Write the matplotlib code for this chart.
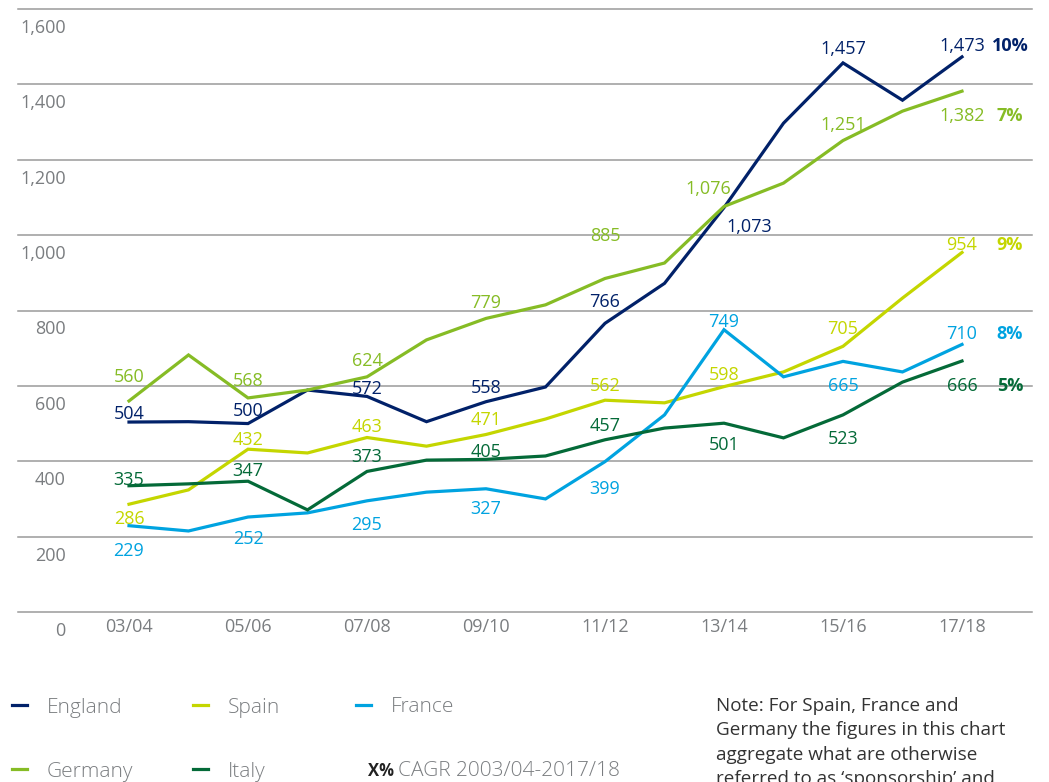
import matplotlib
matplotlib.use('Agg')
import matplotlib.pyplot as plt
from matplotlib.lines import Line2D

plt.rcParams['font.family'] = ['Open Sans', 'DejaVu Sans']

seasons = ['03/04', '04/05', '05/06', '06/07', '07/08', '08/09', '09/10', '10/11',
           '11/12', '12/13', '13/14', '14/15', '15/16', '16/17', '17/18']
england = [504, 505, 500, 589, 572, 505, 558, 597, 766, 872, 1073, 1297, 1457, 1358, 1473]
germany = [560, 682, 568, 589, 624, 722, 779, 815, 885, 926, 1076, 1138, 1251, 1329, 1382]
spain = [286, 324, 432, 422, 463, 440, 471, 512, 562, 555, 598, 637, 705, 833, 954]
france = [229, 215, 252, 263, 295, 318, 327, 300, 399, 523, 749, 624, 665, 637, 710]
italy = [335, 340, 347, 271, 373, 403, 405, 414, 457, 488, 501, 462, 523, 610, 666]
cagr = {'England': '10%', 'Germany': '7%', 'Spain': '9%', 'France': '8%', 'Italy': '5%'}
yticks = [0, 200, 400, 600, 800, 1000, 1200, 1400, 1600]

colors = {'England': '#012169', 'Germany': '#86BC25', 'Spain': '#C4D600',
          'France': '#00A3E0', 'Italy': '#046A38'}
series = {'England': england, 'Germany': germany, 'Spain': spain,
          'France': france, 'Italy': italy}

# label offsets in pixels (dx, dy) for every other season, positive dy = up
label_off = {
    'England': [(0, 10), (0, 15), (0, 9), (0, 16), (0, 23), (25, -17), (0, 16), (0, 13)],
    'Germany': [(0, 26), (0, 19), (0, 18), (0, 17), (0, 44), (-16, 19), (0, 18), (0, -23)],
    'Spain': [(0, -13), (0, 11), (0, 13), (0, 16), (0, 16), (0, 14), (0, 19), (0, 9)],
    'France': [(0, -23), (0, -20), (0, -22), (0, -18), (0, -25), (0, 10), (0, -23), (0, 12)],
    'Italy': [(0, 8), (0, 12), (0, 16), (0, 9), (0, 16), (0, -20), (0, -22), (0, -23)],
}

gray = '#7a7d80'
W, H = 1049, 782
fig = plt.figure(figsize=(W / 100, H / 100), dpi=100)
ax = fig.add_axes([18 / W, 1 - 612 / H, (1032 - 18) / W, (612 - 9) / H])

x = list(range(len(seasons)))
ax.set_xlim((18 - 129) / 59.5, (1032 - 129) / 59.5)
ax.set_ylim(0, 1600)

for name, vals in series.items():
    ax.plot(x, vals, color=colors[name], lw=2.3, solid_joinstyle='miter', zorder=3)
    for k, i in enumerate(range(0, len(vals), 2)):
        dx, dy = label_off[name][k]
        ax.annotate(f'{vals[i]:,}', (i, vals[i]), xytext=(dx, dy), textcoords='offset pixels',
                    ha='center', va='center_baseline', fontsize=13, color=colors[name])
    last = label_off[name][-1]
    ax.annotate(cagr[name], (x[-1], vals[-1]), xytext=(48, last[1]), textcoords='offset pixels',
                ha='center', va='center_baseline', fontsize=13, fontweight='bold',
                color=colors[name])

ax.set_yticks(yticks)
ax.grid(axis='y', color='#9a9a9a', lw=1.1)
for gl in ax.get_ygridlines():
    gl.set_clip_on(False)
for v in yticks:
    ax.annotate(f'{v:,}', (0.047, v), xycoords=ax.get_yaxis_transform(), xytext=(0, -17),
                textcoords='offset pixels', ha='right', va='center_baseline',
                fontsize=13, color=gray)

ax.set_xticks(x[::2], seasons[::2])
ax.tick_params(axis='x', length=0, pad=4, labelsize=13, labelcolor=gray)
ax.tick_params(axis='y', length=0, labelleft=False)
for s in ax.spines.values():
    s.set_visible(False)

# legend
legend_items = [('England', 12, 705), ('Spain', 193, 705), ('France', 356, 705),
                ('Germany', 12, 769), ('Italy', 193, 769)]
for name, px, py in legend_items:
    fig.add_artist(Line2D([px / W, (px + 15) / W], [1 - py / H, 1 - py / H],
                          color=colors[name], lw=2.3))
    fig.text((px + 35) / W, 1 - py / H, name, fontsize=15, color=gray,
             fontweight='light', va='center_baseline')
fig.text(368 / W, 1 - 769 / H, 'X%', fontsize=12, fontweight='bold', color='#222222',
         va='center_baseline')
fig.text(398 / W, 1 - 769 / H, 'CAGR 2003/04-2017/18', fontsize=15, color=gray,
         fontweight='light', va='center_baseline')

note = ('Note: For Spain, France and\nGermany the figures in this chart\n'
        'aggregate what are otherwise\nreferred to as \u2018sponsorship\u2019 and')
fig.text(716 / W, 1 - 697 / H, note, fontsize=13.6, color='#333333', va='top',
         linespacing=1.45)

fig.savefig('out.png', dpi=100)
